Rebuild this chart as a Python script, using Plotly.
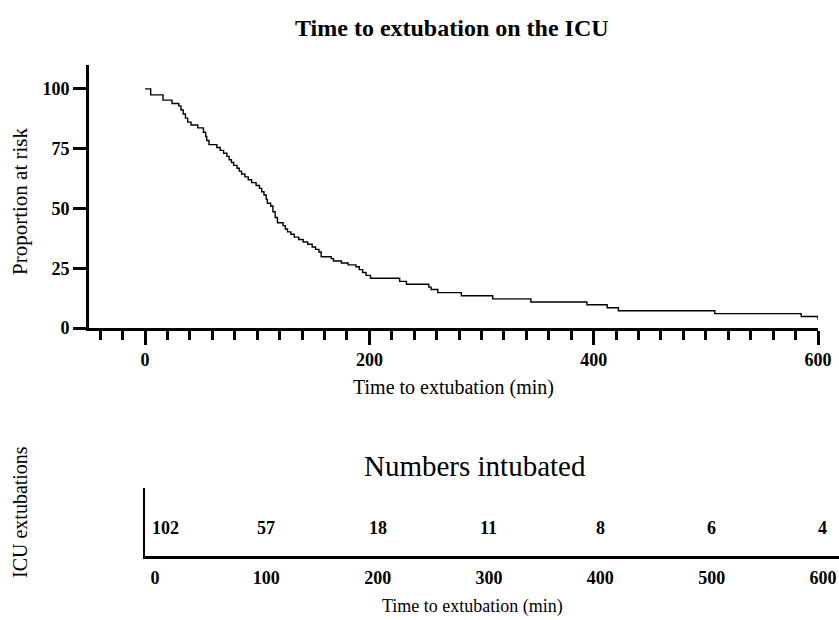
import plotly.graph_objects as go

# ---- Data ----
km_times = [0, 5, 16, 24, 30, 32, 34, 36, 38, 41, 47, 52, 54, 55, 57, 64, 67, 70, 73, 75,
            77, 79, 82, 84, 86, 89, 92, 95, 99, 102, 104, 106, 108, 109, 112, 114, 116, 118,
            123, 125, 127, 130, 133, 137, 141, 145, 149, 152, 155, 157, 166, 168, 175, 181,
            188, 191, 194, 197, 201, 227, 233, 253, 255, 261, 282, 310, 344, 394, 412, 422,
            508, 585, 600]
km_values = [100, 97.5, 95.3, 93.9, 92.9, 91.2, 89.5, 87.8, 86.1, 84.9, 83.7, 81.9, 80.1, 78.4,
             76.7, 75.5, 74.3, 73.1, 71.8, 70.4, 69.2, 68.0, 66.8, 65.6, 64.4, 63.2, 62.0, 60.8,
             59.6, 58.4, 57.0, 55.6, 53.8, 52.2, 51.0, 48.6, 46.2, 44.0, 42.8, 41.4, 40.2, 39.2,
             38.0, 37.0, 36.0, 35.0, 33.9, 32.9, 31.8, 29.8, 29.0, 28.0, 27.2, 26.4, 25.6, 24.4,
             23.2, 22.0, 20.8, 19.5, 18.3, 17.1, 16.1, 14.8, 13.5, 12.2, 10.9, 9.7, 8.5, 7.2,
             6.0, 4.8, 3.6]

risk_times = [0, 100, 200, 300, 400, 500, 600]
risk_numbers = [102, 57, 18, 11, 8, 6, 4]

y_ticks = [0, 25, 50, 75, 100]

W, H = 839, 620
FONT = "Liberation Serif"

def px_x(p):
    return p / W

def px_y(p):
    return 1 - p / H

fig = go.Figure()

fig.add_trace(go.Scatter(
    x=km_times, y=km_values, mode="lines", line=dict(color="black", width=1.4, shape="hv"),
    xaxis="x", yaxis="y", showlegend=False, hoverinfo="skip", cliponaxis=False,
))

fig.add_trace(go.Scatter(
    x=risk_times, y=[0.5] * len(risk_times), mode="markers", marker=dict(opacity=0),
    xaxis="x2", yaxis="y2", showlegend=False, hoverinfo="skip",
))

bold_tick = dict(family=FONT, size=18, color="black", weight="bold")

fig.update_layout(
    width=W, height=H, autosize=False,
    margin=dict(l=0, r=0, t=0, b=0, pad=0),
    paper_bgcolor="white", plot_bgcolor="white",
    font=dict(family=FONT, color="black"),
    xaxis=dict(
        domain=[px_x(89), px_x(818)], range=[-50, 600], anchor="y", automargin=False,
        showgrid=False, zeroline=False, showline=True, linecolor="black", linewidth=3,
        ticks="outside", ticklen=14, tickwidth=3, tickcolor="black",
        tickmode="linear", tick0=0, dtick=200, tickfont=bold_tick, ticklabelstandoff=-1,
        minor=dict(dtick=20, tick0=0, ticks="outside", ticklen=9, tickwidth=3,
                   tickcolor="black", showgrid=False),
    ),
    yaxis=dict(
        domain=[px_y(328), px_y(65)], range=[0, 110], anchor="x", automargin=False,
        showgrid=False, zeroline=False, showline=True, linecolor="black", linewidth=3,
        ticks="outside", ticklen=13, tickwidth=3, tickcolor="black",
        tickmode="array", tickvals=y_ticks, tickfont=bold_tick,
    ),
    xaxis2=dict(
        domain=[px_x(145), 1.0], range=[-9, 614.4], anchor="y2", automargin=False,
        showgrid=False, zeroline=False, showline=True, linecolor="black", linewidth=3,
        ticks="", tickmode="array", tickvals=risk_times, tickfont=bold_tick,
        ticklabelstandoff=3,
    ),
    yaxis2=dict(
        domain=[px_y(556), px_y(488)], range=[0, 1], anchor="x2", automargin=False,
        showgrid=False, zeroline=False, showline=True, linecolor="black", linewidth=2,
        ticks="", showticklabels=False,
    ),
)

annotations = [
    dict(text="<b>Time to extubation on the ICU</b>", x=px_x(452), y=px_y(28),
         font=dict(family=FONT, size=24, color="black")),
    dict(text="Time to extubation (min)", x=px_x(453), y=px_y(387),
         font=dict(family=FONT, size=20, color="black")),
    dict(text="Proportion at risk", x=px_x(20), y=px_y(202), textangle=-90,
         font=dict(family=FONT, size=21, color="black")),
    dict(text="Numbers intubated", x=px_x(475), y=px_y(466),
         font=dict(family=FONT, size=29, color="black")),
    dict(text="Time to extubation (min)", x=px_x(472), y=px_y(606),
         font=dict(family=FONT, size=18, color="black")),
    dict(text="ICU extubations", x=px_x(20), y=px_y(512), textangle=-90,
         font=dict(family=FONT, size=20, color="black")),
]
for a in annotations:
    a.update(xref="paper", yref="paper", showarrow=False, xanchor="center", yanchor="middle")

for i, (t, n) in enumerate(zip(risk_times, risk_numbers)):
    annotations.append(dict(
        text=str(n), x=t, y=0.41, xref="x2", yref="y2", showarrow=False,
        xanchor="center", yanchor="middle", xshift=10 if i == 0 else 0,
        font=dict(family=FONT, size=18, color="black", weight="bold"),
    ))

fig.update_layout(annotations=annotations)

fig.write_html("out.html")
